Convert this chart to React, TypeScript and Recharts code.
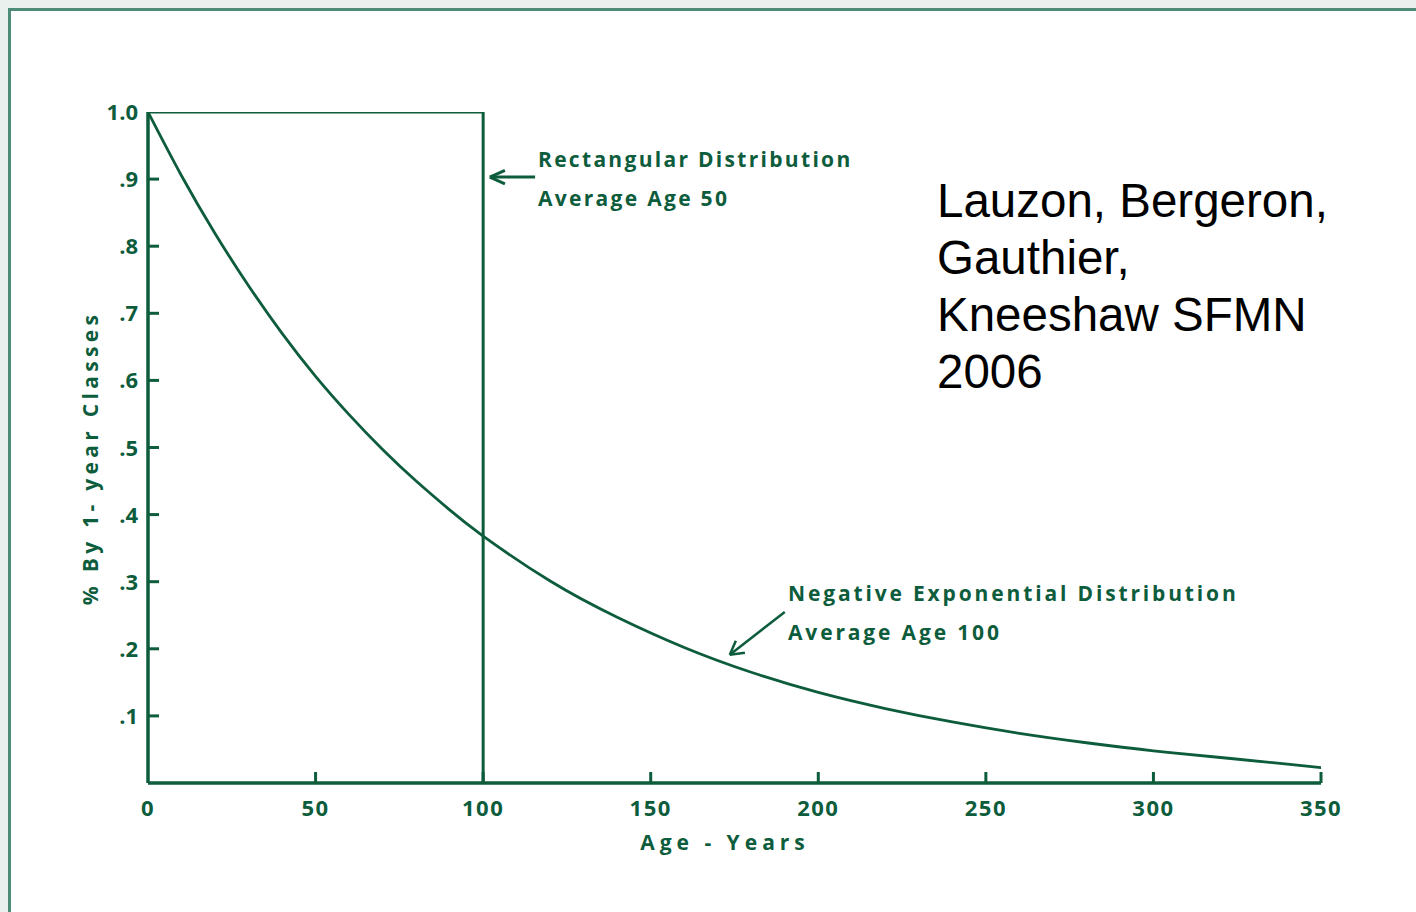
import { ComposedChart, Line, XAxis, YAxis, ReferenceLine } from 'recharts';

const GREEN = '#0d5c3c';

// negative exponential curve
const expAges = [0, 10, 20, 30, 40, 50, 60, 70, 80, 90, 100, 120, 140, 160, 180, 200, 220, 240, 260, 280, 300, 320, 340, 350];
const expValues = [1.0, 0.905, 0.819, 0.741, 0.67, 0.606, 0.549, 0.497, 0.45, 0.407, 0.368, 0.301, 0.247, 0.202, 0.165, 0.135, 0.111, 0.091, 0.074, 0.06, 0.048, 0.038, 0.028, 0.023];

// rectangular distribution outline
const rectAges = [0, 100, 100];
const rectValues = [1.0, 1.0, 0];

const xTicks = [0, 50, 100, 150, 200, 250, 300, 350];
const yTicks = [0.1, 0.2, 0.3, 0.4, 0.5, 0.6, 0.7, 0.8, 0.9, 1.0];

const expData = expAges.map((age, i) => ({ age, v: expValues[i] }));
const rectData = rectAges.map((age, i) => ({ age, v: rectValues[i] }));

const tickFont = { fontFamily: '"Open Sans", sans-serif', fontWeight: 700, fontSize: 22, fill: GREEN };

const XTick = (props: any) => {
  const { x, y, payload } = props;
  return (
    <g>
      {payload.value !== 0 && <line x1={x} y1={y} x2={x} y2={y - 11} stroke={GREEN} strokeWidth={3} />}
      <text x={x} y={y + 33} textAnchor="middle" {...tickFont} letterSpacing={1.5}>{payload.value}</text>
    </g>
  );
};

const YTick = (props: any) => {
  const { x, y, payload } = props;
  const label = payload.value >= 1 ? '1.0' : '.' + Math.round(payload.value * 10);
  return (
    <g>
      {payload.value < 1 && <line x1={x} y1={y} x2={x + 11} y2={y} stroke={GREEN} strokeWidth={3} />}
      <text x={x - 10} y={y + 8} textAnchor="end" {...tickFont}>{label}</text>
    </g>
  );
};

const annoStyle: any = {
  position: 'absolute',
  fontFamily: '"Open Sans", sans-serif',
  fontWeight: 700,
  fontSize: 21,
  letterSpacing: 2.3,
  color: GREEN,
  whiteSpace: 'nowrap',
  lineHeight: '39px',
};

export default function App() {
  return (
    <div style={{ position: 'absolute', left: 0, top: 0, width: 1416, height: 912, background: '#e9f0ee', overflow: 'hidden' }}>
      <div style={{ position: 'absolute', left: 8, top: 8, width: 1416, height: 912, background: '#fff', borderTop: '3px solid #4e8a78', borderLeft: '3px solid #4e8a78' }} />
      <div style={{ position: 'absolute', left: 0, top: 0 }}>
        <ComposedChart width={1416} height={912} margin={{ top: 112, right: 95, bottom: 99, left: 48 }}>
          <XAxis
            dataKey="age"
            type="number"
            domain={[0, 350]}
            ticks={xTicks}
            height={30}
            tickSize={0}
            tickMargin={0}
            tickLine={false}
            axisLine={{ stroke: GREEN, strokeWidth: 3.5 }}
            tick={<XTick />}
            interval={0}
            allowDataOverflow
          />
          <YAxis
            type="number"
            domain={[0, 1]}
            ticks={yTicks}
            width={100}
            tickSize={0}
            tickMargin={0}
            tickLine={false}
            axisLine={{ stroke: GREEN, strokeWidth: 3.5 }}
            tick={<YTick />}
            interval={0}
            allowDataOverflow
          />
          <Line data={rectData} dataKey="v" type="linear" stroke={GREEN} strokeWidth={3} dot={false} isAnimationActive={false} />
          <Line data={expData} dataKey="v" type="natural" stroke={GREEN} strokeWidth={2.8} dot={false} isAnimationActive={false} />
          {/* arrow to the rectangle */}
          <ReferenceLine segment={[{ x: 115.5, y: 0.903 }, { x: 102, y: 0.903 }]} stroke={GREEN} strokeWidth={3} ifOverflow="visible" />
          <ReferenceLine segment={[{ x: 102, y: 0.903 }, { x: 106.5, y: 0.913 }]} stroke={GREEN} strokeWidth={3} ifOverflow="visible" />
          <ReferenceLine segment={[{ x: 102, y: 0.903 }, { x: 106.5, y: 0.893 }]} stroke={GREEN} strokeWidth={3} ifOverflow="visible" />
          {/* arrow to the curve */}
          <ReferenceLine segment={[{ x: 190, y: 0.255 }, { x: 173.6, y: 0.191 }]} stroke={GREEN} strokeWidth={2.5} ifOverflow="visible" />
          <ReferenceLine segment={[{ x: 173.6, y: 0.191 }, { x: 178.1, y: 0.194 }]} stroke={GREEN} strokeWidth={2.5} ifOverflow="visible" />
          <ReferenceLine segment={[{ x: 173.6, y: 0.191 }, { x: 175.4, y: 0.212 }]} stroke={GREEN} strokeWidth={2.5} ifOverflow="visible" />
        </ComposedChart>
      </div>

      <div style={{ ...annoStyle, left: 538, top: 140 }}>
        Rectangular Distribution<br />Average Age 50
      </div>
      <div style={{ ...annoStyle, letterSpacing: 2.85, left: 788, top: 574 }}>
        Negative Exponential Distribution<br />Average Age 100
      </div>
      <div style={{ ...annoStyle, letterSpacing: 5, left: 725, top: 842, transform: 'translate(-50%, -50%)' }}>
        Age - Years
      </div>
      <div style={{ ...annoStyle, letterSpacing: 4.3, left: 90, top: 458, transform: 'translate(-50%, -50%) rotate(-90deg)' }}>
        % By 1- year Classes
      </div>

      <div style={{ position: 'absolute', left: 937, top: 172, fontFamily: '"Liberation Sans", Arial, sans-serif', fontSize: 47.5, lineHeight: '57px', color: '#000' }}>
        Lauzon, Bergeron,<br />Gauthier,<br />Kneeshaw SFMN<br />2006
      </div>
    </div>
  );
}
